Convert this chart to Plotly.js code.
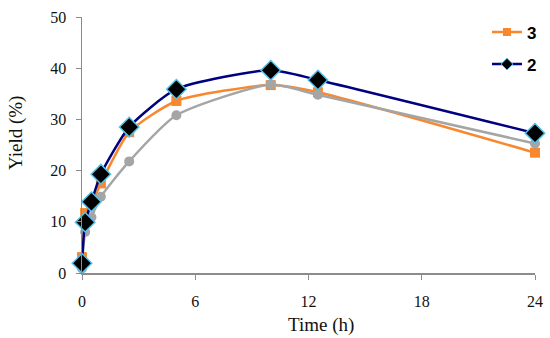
<!DOCTYPE html>
<html>
<head>
<meta charset="utf-8">
<script src="https://cdn.plot.ly/plotly-3.0.1.min.js"></script>
<style>html,body{margin:0;padding:0;background:#fff;}#chart{width:550px;height:338px;}</style>
</head>
<body>
<div id="chart"></div>
<script>
const timeH = [0, 0.167, 0.5, 1, 2.5, 5, 10, 12.5, 24];
const series3 = [3.1, 11.7, 13.5, 17.5, 27.5, 33.6, 36.7, 35.3, 23.5];
const series2 = [1.9, 9.9, 13.9, 19.3, 28.5, 35.9, 39.6, 37.7, 27.3];
const seriesGray = [0.9, 8.0, 10.9, 14.9, 21.8, 30.8, 36.8, 34.8, 25.3];
const legendNames = ['3', '2'];
const xTicks = [0, 6, 12, 18, 24];
const yTicks = [0, 10, 20, 30, 40, 50];

const orange = '#F7882F', navy = '#000080', gray = '#A5A5A5';
const traces = [
  {x: timeH, y: series3, name: legendNames[0], mode: 'lines+markers', showlegend: false,
   line: {color: orange, width: 2.5, shape: 'spline', smoothing: 0.6},
   marker: {symbol: 'square', size: 10, color: orange}, cliponaxis: false},
  {x: timeH, y: seriesGray, name: '1', mode: 'lines+markers', showlegend: false,
   line: {color: gray, width: 2.5, shape: 'spline', smoothing: 0.6},
   marker: {symbol: 'circle', size: 10, color: gray}, cliponaxis: false},
  {x: timeH, y: series2, name: legendNames[1], mode: 'lines+markers', showlegend: false,
   line: {color: navy, width: 2.5, shape: 'spline', smoothing: 0.6},
   marker: {symbol: 'diamond', size: 15, color: '#000000', line: {color: '#4FC3EC', width: 1.5}}, cliponaxis: false},
  // legend-only entries (smaller markers, as in the reference legend)
  {x: [null], y: [null], name: legendNames[0], mode: 'lines+markers', legendgroup: 'a',
   line: {color: orange, width: 2.5}, marker: {symbol: 'square', size: 8, color: orange}},
  {x: [null], y: [null], name: legendNames[1], mode: 'lines+markers', legendgroup: 'b',
   line: {color: navy, width: 2.5}, marker: {symbol: 'diamond', size: 9, color: '#000000', line: {color: '#4FC3EC', width: 1}}}
];

const serif = 'Liberation Serif, Times New Roman, serif';
const layout = {
  width: 550, height: 338,
  margin: {l: 82, r: 15, t: 17, b: 65, autoexpand: false},
  paper_bgcolor: '#fff', plot_bgcolor: '#fff',
  showlegend: true,
  legend: {x: 0.894, y: 1.01, xanchor: 'left', yanchor: 'top', traceorder: 'grouped', tracegroupgap: 7,
    font: {family: 'Liberation Sans, Arial, sans-serif', size: 17, color: '#000', weight: 'bold'},
    bgcolor: 'rgba(0,0,0,0)', itemwidth: 30},
  xaxis: {range: [0, 24], tickvals: xTicks, ticktext: xTicks.map(String), showgrid: false, zeroline: false,
    showline: true, linecolor: '#8c8c8c', linewidth: 1.5, ticks: 'outside', ticklen: 5, tickcolor: '#8c8c8c',
    ticklabelstandoff: 8, tickfont: {family: serif, size: 16, color: '#111'}},
  yaxis: {range: [0, 50], tickvals: yTicks, ticktext: yTicks.map(String), showgrid: false, zeroline: false,
    showline: true, linecolor: '#8c8c8c', linewidth: 1.5, ticks: 'outside', ticklen: 5, tickcolor: '#8c8c8c',
    ticklabelstandoff: 6, tickfont: {family: serif, size: 16, color: '#111'}},
  annotations: [
    {text: 'Time (h)', xref: 'paper', yref: 'paper', x: (321 - 82) / 453, y: -(325 - 273) / 256, xanchor: 'center', yanchor: 'middle',
     showarrow: false, font: {family: serif, size: 19, color: '#111'}},
    {text: 'Yield (%)', xref: 'paper', yref: 'paper', x: -(82 - 16) / 453, y: (273 - 133) / 256, xanchor: 'center', yanchor: 'middle',
     textangle: -90, showarrow: false, font: {family: serif, size: 19, color: '#111'}}
  ]
};
Plotly.newPlot('chart', traces, layout, {displayModeBar: false, staticPlot: true});
</script>
</body>
</html>
